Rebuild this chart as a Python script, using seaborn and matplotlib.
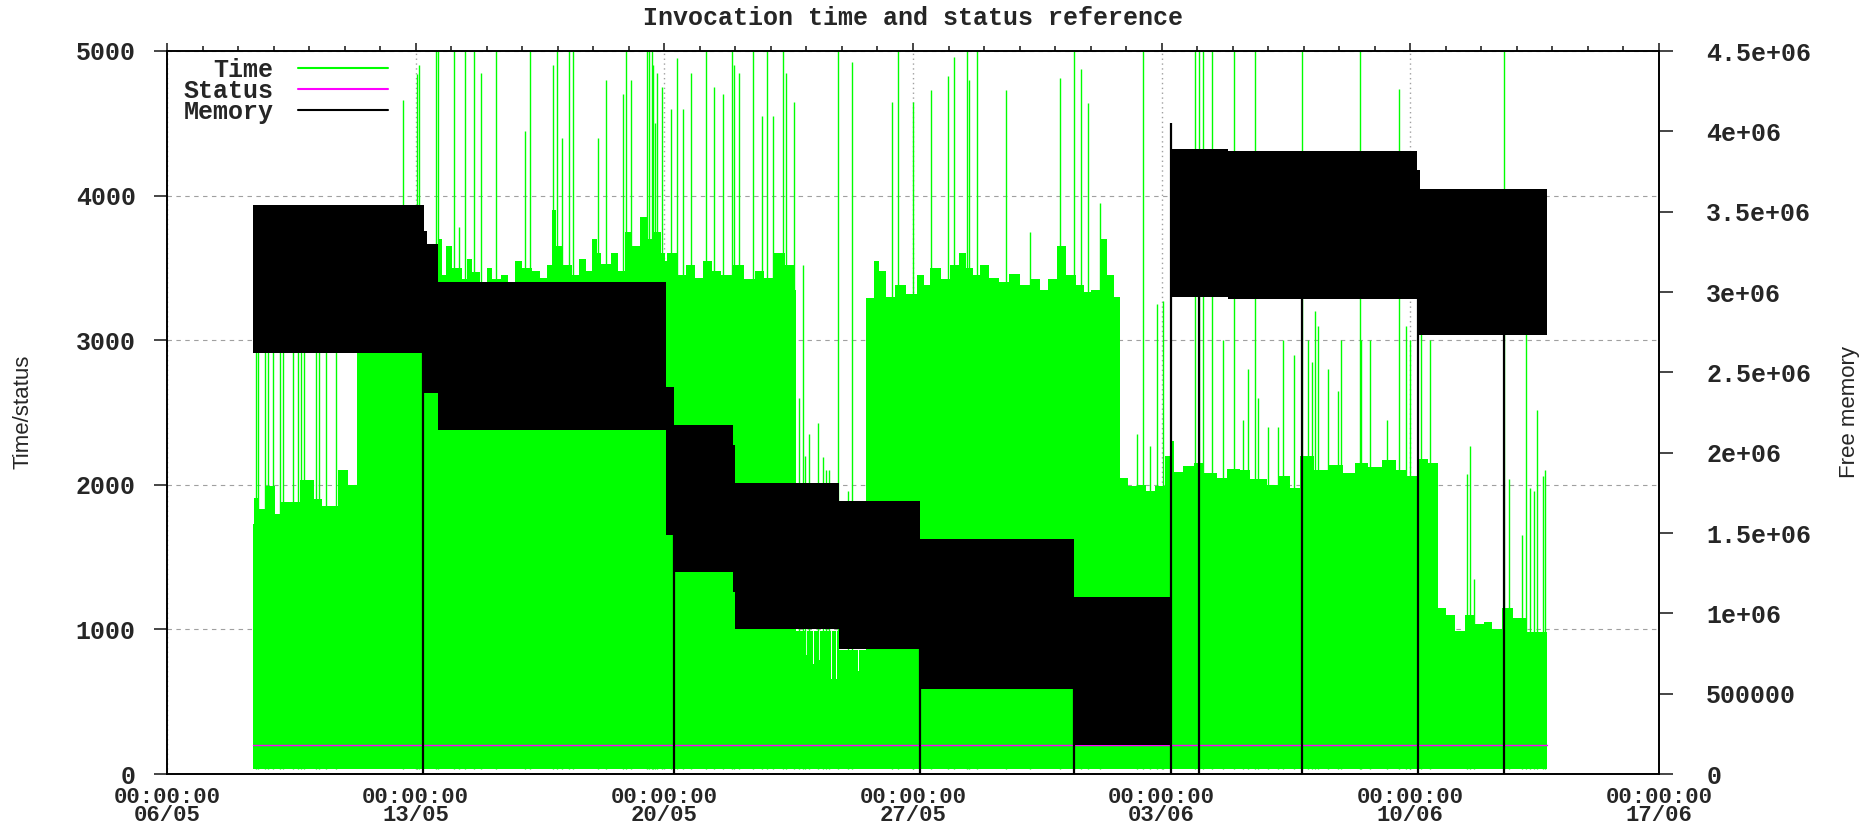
import numpy as np
import pandas as pd
import matplotlib
matplotlib.use("Agg")
import matplotlib.pyplot as plt
import matplotlib.dates as mdates
from matplotlib.lines import Line2D
from matplotlib.font_manager import FontProperties
import seaborn as sns

start = pd.Timestamp("2008-05-06")

# Time trace: upper edge of the dense green trace (days after 06/05 00:00, value)
time_days = [2.42, 2.46, 2.6, 2.78, 3.05, 3.2, 3.75, 4.15, 4.35, 4.8, 5.1, 5.36,
             7.63, 7.75, 7.85, 8.03, 8.3, 8.45, 8.59, 8.8, 9.0, 9.15, 9.4, 9.6,
             9.8, 10.0, 10.27, 10.5, 10.7, 10.83, 10.95, 11.16, 11.4, 11.6, 11.8,
             11.95, 12.1, 12.23, 12.5, 12.7, 12.89, 13.1, 13.32, 13.5, 13.7, 13.9,
             14.02, 14.07, 14.35, 14.6, 14.85, 15.1, 15.35, 15.6, 15.9, 16.25,
             16.55, 16.8, 17.1, 17.4, 17.65,
             17.71, 17.8, 17.83, 17.99, 18.02, 18.18, 18.21, 18.36, 18.39, 18.69,
             18.72, 18.83, 18.86, 18.93, 19.44, 19.47,
             19.67, 19.9, 20.05, 20.23, 20.5, 20.8, 21.1, 21.3, 21.48, 21.8, 22.05,
             22.3, 22.5, 22.68, 22.9, 23.15, 23.43, 23.7, 24.0, 24.3,
             24.58, 24.8, 25.05, 25.3, 25.6, 25.8, 26.0, 26.25, 26.45, 26.65,
             26.83, 27.05, 27.3, 27.55, 27.8, 28.1, 28.28, 28.35, 28.6, 28.9, 29.2,
             29.55, 29.85, 30.2, 30.5, 30.96, 31.3, 31.6, 31.9, 32.3, 32.7, 33.1,
             33.45, 33.8, 34.2, 34.6, 34.9, 35.25, 35.5,
             35.77, 36.0, 36.27, 36.55, 36.8, 37.06, 37.3, 37.58, 37.9, 38.28, 38.85]
time_upper = [1730, 1910, 1830, 1990, 1800, 1880, 2030, 1900, 1850, 2100, 2000, 3400,
              3700, 3450, 3650, 3500, 3420, 3560, 3470, 3400, 3500, 3420, 3450, 3400,
              3550, 3500, 3480, 3430, 3520, 3900, 3650, 3520, 3450, 3560, 3480,
              3700, 3600, 3530, 3600, 3480, 3750, 3650, 3850, 3700, 3750, 3600,
              3550, 3600, 3450, 3520, 3430, 3550, 3480, 3450, 3520, 3420,
              3480, 3430, 3600, 3520, 3350,
              990, 870, 990, 820, 990, 760, 990, 790, 990, 660,
              990, 660, 990, 860, 710, 860,
              3290, 3550, 3480, 3300, 3380, 3320, 3450, 3380, 3500, 3420, 3520,
              3600, 3500, 3450, 3520, 3430, 3400, 3460, 3380, 3420,
              3350, 3420, 3650, 3450, 3380, 3330, 3350, 3700, 3450, 3300,
              2050, 1990, 2000, 1960, 1990, 2200, 2300, 2090, 2130, 2150, 2080,
              2050, 2110, 2100, 2040, 2000, 2060, 1980, 2200, 2100, 2140, 2080,
              2150, 2120, 2170, 2100, 2060, 2180, 2150,
              1150, 1100, 990, 1100, 1040, 1050, 1000, 1150, 1080, 980, 980]
time_floor = 33

# isolated long invocations
spike_days = [2.51, 2.57, 2.75, 2.84, 2.98, 3.17, 3.26, 3.54, 3.68, 3.78, 3.87, 4.2,
              4.29, 4.48, 4.76, 6.63, 7.05, 7.09, 7.56, 7.63, 8.07, 8.21, 8.38,
              8.64, 8.85, 9.27, 10.08, 10.22, 10.88, 10.97, 11.11, 11.33, 11.44,
              12.14, 12.37, 12.84, 12.93, 13.07, 13.52, 13.64, 13.78,
              13.58, 13.67, 13.74, 13.93, 14.18, 14.36, 14.53, 14.74, 15.17, 15.39,
              15.65, 15.91, 15.96, 16.09, 16.5, 16.76, 16.89, 17.07, 17.34, 17.43,
              17.64, 17.8, 17.9, 17.96, 18.06, 18.32, 18.46, 18.55, 18.64, 18.9,
              19.16, 19.27, 20.42, 20.59, 21.0, 21.52, 21.99, 22.15, 22.52, 22.57,
              22.79, 23.63, 24.3, 25.14, 25.52, 25.72, 25.94, 26.27, 27.3, 27.48,
              27.67, 27.88, 28.05, 28.94, 29.06, 29.17, 29.41, 29.72, 30.04, 30.3,
              30.44, 30.62, 30.72, 31.0, 31.28, 31.42, 31.73, 31.95, 32.12, 32.22,
              32.31, 32.4, 32.69, 32.95, 33.06, 33.58, 33.62, 33.86, 34.33, 34.68,
              34.87, 34.98, 35.31, 35.54, 36.6, 36.67, 36.78, 37.63, 37.78, 38.15,
              38.25, 38.38, 38.48, 38.57, 38.74, 38.8]
spike_vals = [3000, 3000, 3000, 3000, 3000, 3000, 3000, 3000, 3000, 3000, 3000, 3000,
              3000, 3000, 3000, 4660, 4840, 4900, 5000, 5000, 5000, 3780, 5000,
              5000, 4850, 5000, 4450, 5000, 4900, 5000, 4400, 5000, 5000,
              4400, 4800, 4700, 5000, 4800, 5000, 5000, 4850,
              5000, 4900, 4500, 4750, 4600, 4950, 4600, 4850, 5000, 4750,
              4700, 5000, 4900, 4850, 5000, 4550, 5000, 4550, 5000, 4850,
              4650, 2600, 3520, 2200, 2350, 2430, 2190, 2100, 2100, 5000,
              1960, 4925, 4650, 5000, 4650, 4730, 4830, 4960, 5000, 4800,
              5000, 4730, 3750, 4810, 5000, 4875, 4640, 3950, 2350, 5000,
              2270, 3250, 3270, 5000, 5000, 5000, 5000, 3000, 5000, 2450,
              2800, 5000, 2600, 2400, 2400, 3000, 2900, 5000, 3000, 2850,
              3200, 3100, 2800, 2650, 3000, 5000, 3000, 3000, 2450, 4740,
              3100, 3000, 3200, 3000, 2075, 2270, 1350, 5000, 2040, 1650,
              3100, 1980, 1960, 2520, 2060, 2100]

# Status (HTTP code)
status_days = [2.42, 38.85]
status_vals = [200, 200]

# Free memory band: segment starts (last entry = end), top and bottom of the band
mem_days = [2.42, 7.23, 7.31, 7.63, 14.05, 14.27, 15.92, 15.99, 18.93, 21.21,
            25.52, 28.25, 29.87, 35.2, 35.27, 38.85]
mem_top = [3.54e6, 3.38e6, 3.30e6, 3.06e6, 2.41e6, 2.17e6, 2.05e6, 1.81e6, 1.70e6,
           1.46e6, 1.10e6, 3.89e6, 3.88e6, 3.76e6, 3.64e6]
mem_bottom = [2.62e6, 2.37e6, 2.37e6, 2.14e6, 1.49e6, 1.26e6, 1.13e6, 0.90e6, 0.78e6,
              0.53e6, 0.18e6, 2.97e6, 2.955e6, 2.73e6, 2.73e6]
# moments where free memory fell to zero
drop_days = [7.21, 14.26, 21.21, 25.52, 28.25, 29.05, 31.95, 35.22, 37.63]
drop_tops = [2.62e6, 1.49e6, 0.78e6, 0.53e6, 4.05e6, 2.97e6, 2.955e6, 2.955e6, 2.73e6]

xtick_days = [0, 7, 14, 21, 28, 35, 42]
xtick_labels = ["00:00:00\n06/05", "00:00:00\n13/05", "00:00:00\n20/05",
                "00:00:00\n27/05", "00:00:00\n03/06", "00:00:00\n10/06",
                "00:00:00\n17/06"]
ytick_vals = [0, 1000, 2000, 3000, 4000, 5000]
y2tick_vals = [0, 5e5, 1e6, 1.5e6, 2e6, 2.5e6, 3e6, 3.5e6, 4e6, 4.5e6]
y2tick_labels = ["0", "500000", "1e+06", "1.5e+06", "2e+06", "2.5e+06", "3e+06",
                 "3.5e+06", "4e+06", "4.5e+06"]


def to_num(days):
    return mdates.date2num(start + pd.to_timedelta(np.asarray(days, dtype=float), unit="D"))


sns.set_style("white")
mono = FontProperties(family="Liberation Mono", weight="bold", size=18)
mono_x = FontProperties(family="Liberation Mono", weight="bold", size=16)
sans = FontProperties(family=["Liberation Sans Narrow", "Liberation Sans"], size=16)

fig = plt.figure(figsize=(18.7, 8.3), dpi=100)
ax = fig.add_axes([167 / 1870, 1 - 774 / 830, (1659 - 167) / 1870, (774 - 51) / 830])

green = "#00ff00"
tx = to_num(time_days)
ax.fill_between(tx, time_floor, time_upper, step="post", color=green, lw=0, zorder=2)
ax.vlines(to_num(spike_days), time_floor, spike_vals, colors=green, lw=1.0, zorder=2)
sns.lineplot(x=to_num(status_days), y=status_vals, ax=ax, color="#ff00ff", lw=1.0,
             zorder=3)

ax.set_xlim(to_num(0), to_num(42))
ax.set_ylim(0, 5000)
ax.set_xticks(to_num(xtick_days))
ax.set_xticklabels(xtick_labels, fontproperties=mono_x, linespacing=0.8)
ax.xaxis.set_minor_locator(mdates.DayLocator())
ax.set_yticks(ytick_vals)
ax.set_yticklabels([str(v) for v in ytick_vals], fontproperties=mono)
ax.tick_params(axis="x", which="major", direction="out", length=6, width=1.2,
               top=True, pad=3.5)
ax.tick_params(axis="x", which="minor", direction="out", length=3.5, width=1.2, top=True)
ax.tick_params(axis="y", direction="out", length=9.5, width=1.2, right=True, pad=13)
ax.grid(axis="y", color="#a0a0a0", ls=(0, (4, 4)), lw=0.8, zorder=0)
ax.grid(axis="x", which="major", color="#a0a0a0", ls=(0, (1, 2.5)), lw=1.0, zorder=0)
ax.set_axisbelow(True)
ax.set_xlabel("")
ax.set_ylabel("")

ax2 = ax.twinx()
mx = to_num(mem_days)
ax2.fill_between(mx, mem_bottom + [mem_bottom[-1]], mem_top + [mem_top[-1]],
                 step="post", color="black", lw=0)
ax2.vlines(to_num(drop_days), 0, drop_tops, colors="black", lw=1.6)
ax2.set_ylim(0, 4.5e6)
ax2.set_yticks(y2tick_vals)
ax2.set_yticklabels(y2tick_labels, fontproperties=mono)
ax2.tick_params(axis="y", direction="out", length=10, width=1.2, pad=24)
ax2.grid(False)

for a in (ax, ax2):
    for s in a.spines.values():
        s.set_color("black")
        s.set_linewidth(1.2)

ax.set_title("Invocation time and status reference", fontproperties=mono, pad=19)

handles = [Line2D([], [], color=green, lw=1.5),
           Line2D([], [], color="#ff00ff", lw=1.5),
           Line2D([], [], color="black", lw=1.5)]
ax2.legend(handles, ["Time", "Status", "Memory"], loc="upper left",
           bbox_to_anchor=(0.011, 0.99), frameon=False, markerfirst=False,
           handlelength=3.6, handletextpad=1.0, labelspacing=-0.12, borderpad=0,
           borderaxespad=0, prop=mono)

fig.text(23 / 1870, 1 - 412 / 830, "Time/status", rotation=90, ha="center",
         va="center", fontproperties=sans)
fig.text(1849 / 1870, 1 - 412 / 830, "Free memory", rotation=90, ha="center",
         va="center", fontproperties=sans)

fig.savefig("out.png", dpi=100)
